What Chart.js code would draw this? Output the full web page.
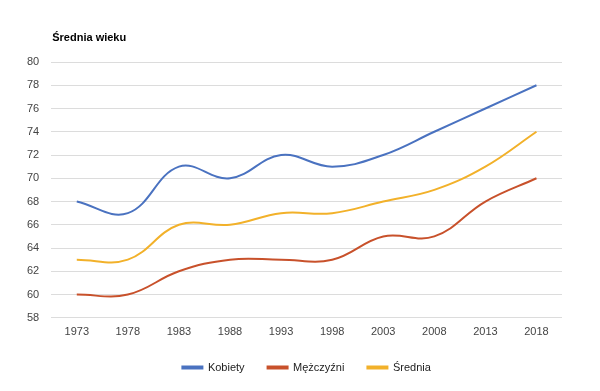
<!DOCTYPE html>
<html>
<head>
<meta charset="utf-8">
<script src="https://cdn.jsdelivr.net/npm/chart.js@4"></script>
<style>
  body { margin: 0; background: #fff; }
  #wrap { width: 600px; height: 391px; }
</style>
</head>
<body>
<div id="wrap"><canvas id="myChart"></canvas></div>
<script>
var years = ['1973', '1978', '1983', '1988', '1993', '1998', '2003', '2008', '2013', '2018'];
var kobiety = [68, 67, 71, 70, 72, 71, 72, 74, 76, 78];
var mezczyzni = [60, 60, 62, 63, 63, 63, 65, 65, 68, 70];
var srednia = [63, 63, 66, 66, 67, 67, 68, 69, 71, 74];
var chartTitle = 'Średnia wieku';

// title drawn over the left edge of the plot area
var titlePlugin = {
    id: 'leftTitle',
    afterLayout: function (chart) {
        // center the legend under the plot area instead of the whole canvas
        var lg = chart.legend;
        var shift = (chart.chartArea.left + chart.chartArea.right) / 2 - (lg.left + lg.right) / 2;
        lg.left += shift;
        lg.right += shift;
    },
    afterDraw: function (chart) {
        var c = chart.ctx;
        c.save();
        c.font = 'bold 11px "Liberation Sans", Arial, sans-serif';
        c.fillStyle = '#000';
        c.textBaseline = 'middle';
        c.fillText(chartTitle, chart.chartArea.left + 1, 38);
        c.restore();
    }
};

var ctx = document.getElementById('myChart').getContext('2d');
var chart = new Chart(ctx, {
    type: 'line',
    data: {
        labels: years,
        datasets: [{
            label: 'Kobiety',
            borderColor: '#4a72c0',
            backgroundColor: '#4a72c0',
            data: kobiety
        }, {
            label: 'Mężczyźni',
            borderColor: '#c8512b',
            backgroundColor: '#c8512b',
            data: mezczyzni
        }, {
            label: 'Średnia',
            borderColor: '#f2b12a',
            backgroundColor: '#f2b12a',
            data: srednia
        }]
    },
    options: {
        responsive: true,
        maintainAspectRatio: false,
        animation: false,
        elements: {
            line: { tension: 0.4, borderWidth: 2 },
            point: { radius: 0 }
        },
        layout: { padding: { top: 62, left: 15, right: 38, bottom: 8 } },
        scales: {
            x: {
                offset: true,
                grid: { display: false },
                border: { display: false },
                ticks: { color: '#444', font: { size: 11, family: '"Liberation Sans", Arial' }, padding: 0, maxRotation: 0 }
            },
            y: {
                min: 58,
                max: 80,
                grid: { color: '#dcdcdc', drawTicks: false },
                border: { display: false },
                ticks: { stepSize: 2, color: '#444', font: { size: 11, family: '"Liberation Sans", Arial' }, padding: 12 }
            }
        },
        plugins: {
            legend: {
                position: 'bottom',
                labels: {
                    boxWidth: 20,
                    boxHeight: 2,
                    padding: 23,
                    color: '#222',
                    font: { size: 11, family: '"Liberation Sans", Arial' }
                }
            },
            tooltip: { enabled: false }
        }
    },
    plugins: [titlePlugin]
});
</script>
</body>
</html>
